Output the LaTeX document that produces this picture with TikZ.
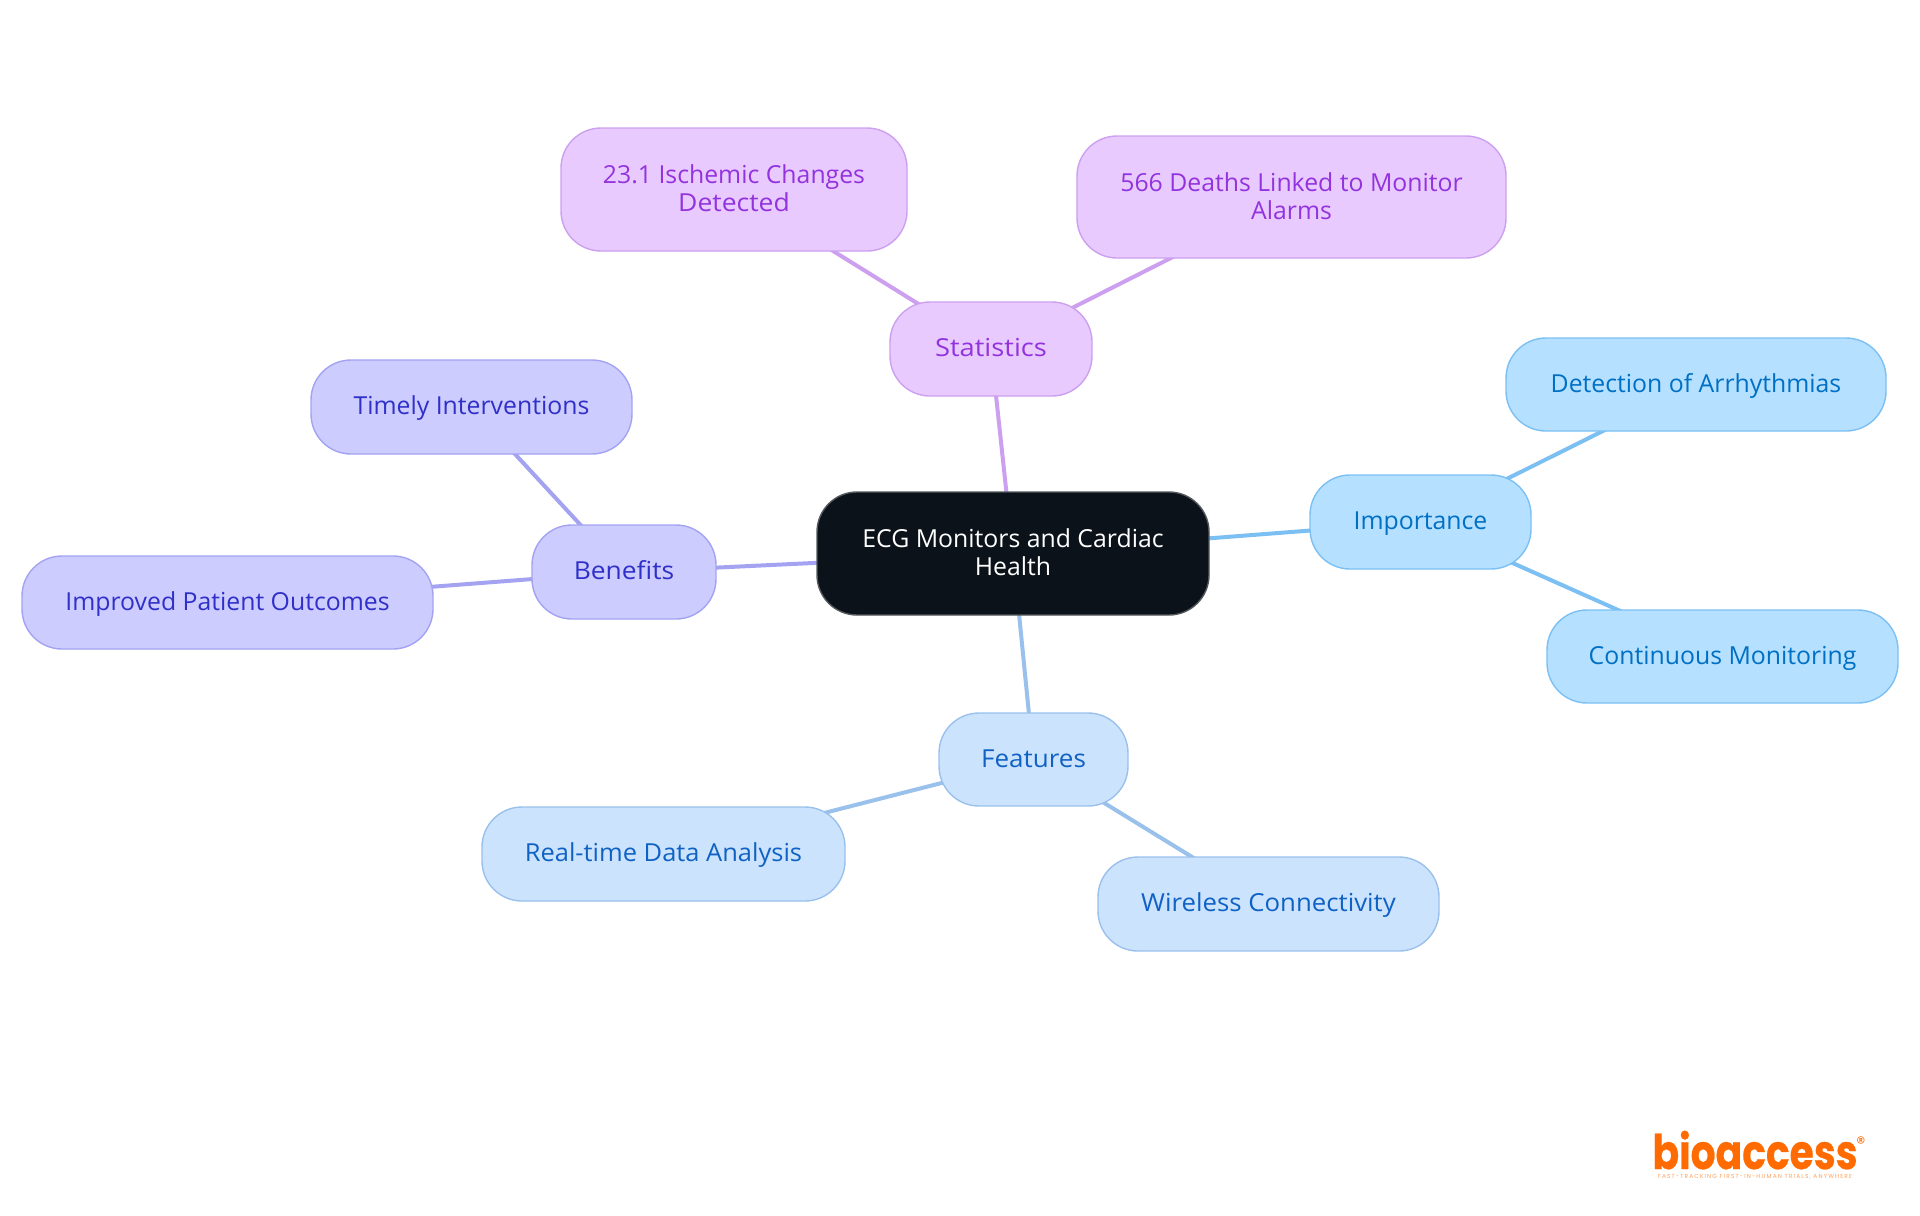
\documentclass[tikz,border=0pt]{standalone}
\usepackage{graphicx}
\usepackage{fontspec}
\setmainfont{Open Sans}
\newfontfamily\logofont{Poppins}
\usetikzlibrary{backgrounds}
\definecolor{rootfill}{HTML}{0B1219}
\definecolor{rootline}{HTML}{55595E}
\definecolor{pfill}{HTML}{E8CAFF}\definecolor{pline}{HTML}{CCA0EF}\definecolor{ptext}{HTML}{9333DD}
\definecolor{cfill}{HTML}{B5E0FF}\definecolor{cline}{HTML}{7CC0F3}\definecolor{ctext}{HTML}{0070C4}
\definecolor{bfill}{HTML}{CCE3FD}\definecolor{bline}{HTML}{9AC0EC}\definecolor{btext}{HTML}{0F62C4}
\definecolor{ifill}{HTML}{CCCCFF}\definecolor{iline}{HTML}{A3A3F2}\definecolor{itext}{HTML}{3030C8}
\definecolor{logoorange}{HTML}{FF6B00}
\tikzset{
  x=0.5pt,y=-0.5pt,
  box/.style={rounded corners=20pt,line width=0.7pt,align=center,inner sep=0pt,
    text height=10.5pt,text depth=3pt,
    font=\fontsize{12.4pt}{14pt}\selectfont},
  two/.style={text height=25pt,text depth=3pt},
  rootbox/.style={box,fill=rootfill,draw=rootline,text=white},
  pbox/.style={box,fill=pfill,draw=pline,text=ptext},
  cbox/.style={box,fill=cfill,draw=cline,text=ctext},
  bbox/.style={box,fill=bfill,draw=bline,text=btext},
  ibox/.style={box,fill=ifill,draw=iline,text=itext},
  link/.style={line width=2pt},
}
% name, style, x1, y1, x2, y2, text
\newcommand{\bx}[7]{%
  \pgfmathsetmacro{\cx}{(#3+#5)/2}\pgfmathsetmacro{\cy}{(#4+#6)/2}%
  \pgfmathsetmacro{\ww}{(#5-#3)/2}\pgfmathsetmacro{\hh}{(#6-#4)/2}%
  \node[#2,minimum width=\ww pt,minimum height=\hh pt] (#1) at (\cx,\cy) {#7};}
\begin{document}
\begin{tikzpicture}
\useasboundingbox (0,0) rectangle (1920,1215);
\bx{root}{rootbox,two}{817}{492}{1209}{615}{ECG Monitors and Cardiac\\Health}
\bx{stat}{pbox}{890}{302}{1092}{396}{\scalebox{1.1}[1]{Statistics}}
\bx{ische}{pbox,two}{561}{128}{907}{251}{23.1 Ischemic Changes\\\scalebox{1.07}[1]{Detected}}
\bx{death}{pbox,two}{1077}{136}{1506}{258}{566 Deaths Linked to Monitor\\Alarms}
\bx{impo}{cbox}{1310}{475}{1531}{569}{Importance}
\bx{arrh}{cbox}{1506}{338}{1886}{431}{Detection of Arrhythmias}
\bx{cont}{cbox}{1547}{610}{1898}{703}{Continuous Monitoring}
\bx{feat}{bbox}{939}{713}{1128}{806}{\scalebox{1.05}[1]{Features}}
\bx{real}{bbox}{482}{807}{845}{901}{\scalebox{1.027}[1]{Real-time Data Analysis}}
\bx{wire}{bbox}{1098}{857}{1439}{951}{\scalebox{1.04}[1]{Wireless Connectivity}}
\bx{bene}{ibox}{532}{525}{716}{619}{\scalebox{1.065}[1]{Benefits}}
\bx{time}{ibox}{311}{360}{632}{454}{Timely Interventions}
\bx{outc}{ibox}{22}{556}{433}{649}{Improved Patient Outcomes}
\begin{pgfonlayer}{background}
\draw[link,pline] (root.center) -- (stat.center);
\draw[link,pline] (stat.center) -- (ische.center);
\draw[link,pline] (stat.center) -- (death.center);
\draw[link,cline] (root.center) -- (impo.center);
\draw[link,cline] (impo.center) -- (arrh.center);
\draw[link,cline] (impo.center) -- (cont.center);
\draw[link,bline] (root.center) -- (feat.center);
\draw[link,bline] (feat.center) -- (real.center);
\draw[link,bline] (feat.center) -- (wire.center);
\draw[link,iline] (root.center) -- (bene.center);
\draw[link,iline] (bene.center) -- (time.center);
\draw[link,iline] (bene.center) -- (outc.center);
\end{pgfonlayer}
\node[anchor=base,inner sep=0pt,text=logoorange,font=\logofont\bfseries\fontsize{19.6pt}{20pt}\selectfont\addfontfeature{FakeBold=0.5}] (logo) at (1755,1169) {\scalebox{1}[1.22]{bioaccess}};
\node[anchor=center,inner sep=0pt,text=logoorange,font=\logofont\fontsize{9pt}{9pt}\selectfont] (reg) at (1861,1143) {®};
\node[anchor=center,inner sep=0pt,text=logoorange!65,font=\logofont\fontsize{2.9pt}{3pt}\selectfont\addfontfeature{LetterSpace=20}] (tag) at (1755,1177) {FAST-TRACKING FIRST-IN-HUMAN TRIALS, ANYWHERE};
\end{tikzpicture}
\end{document}
